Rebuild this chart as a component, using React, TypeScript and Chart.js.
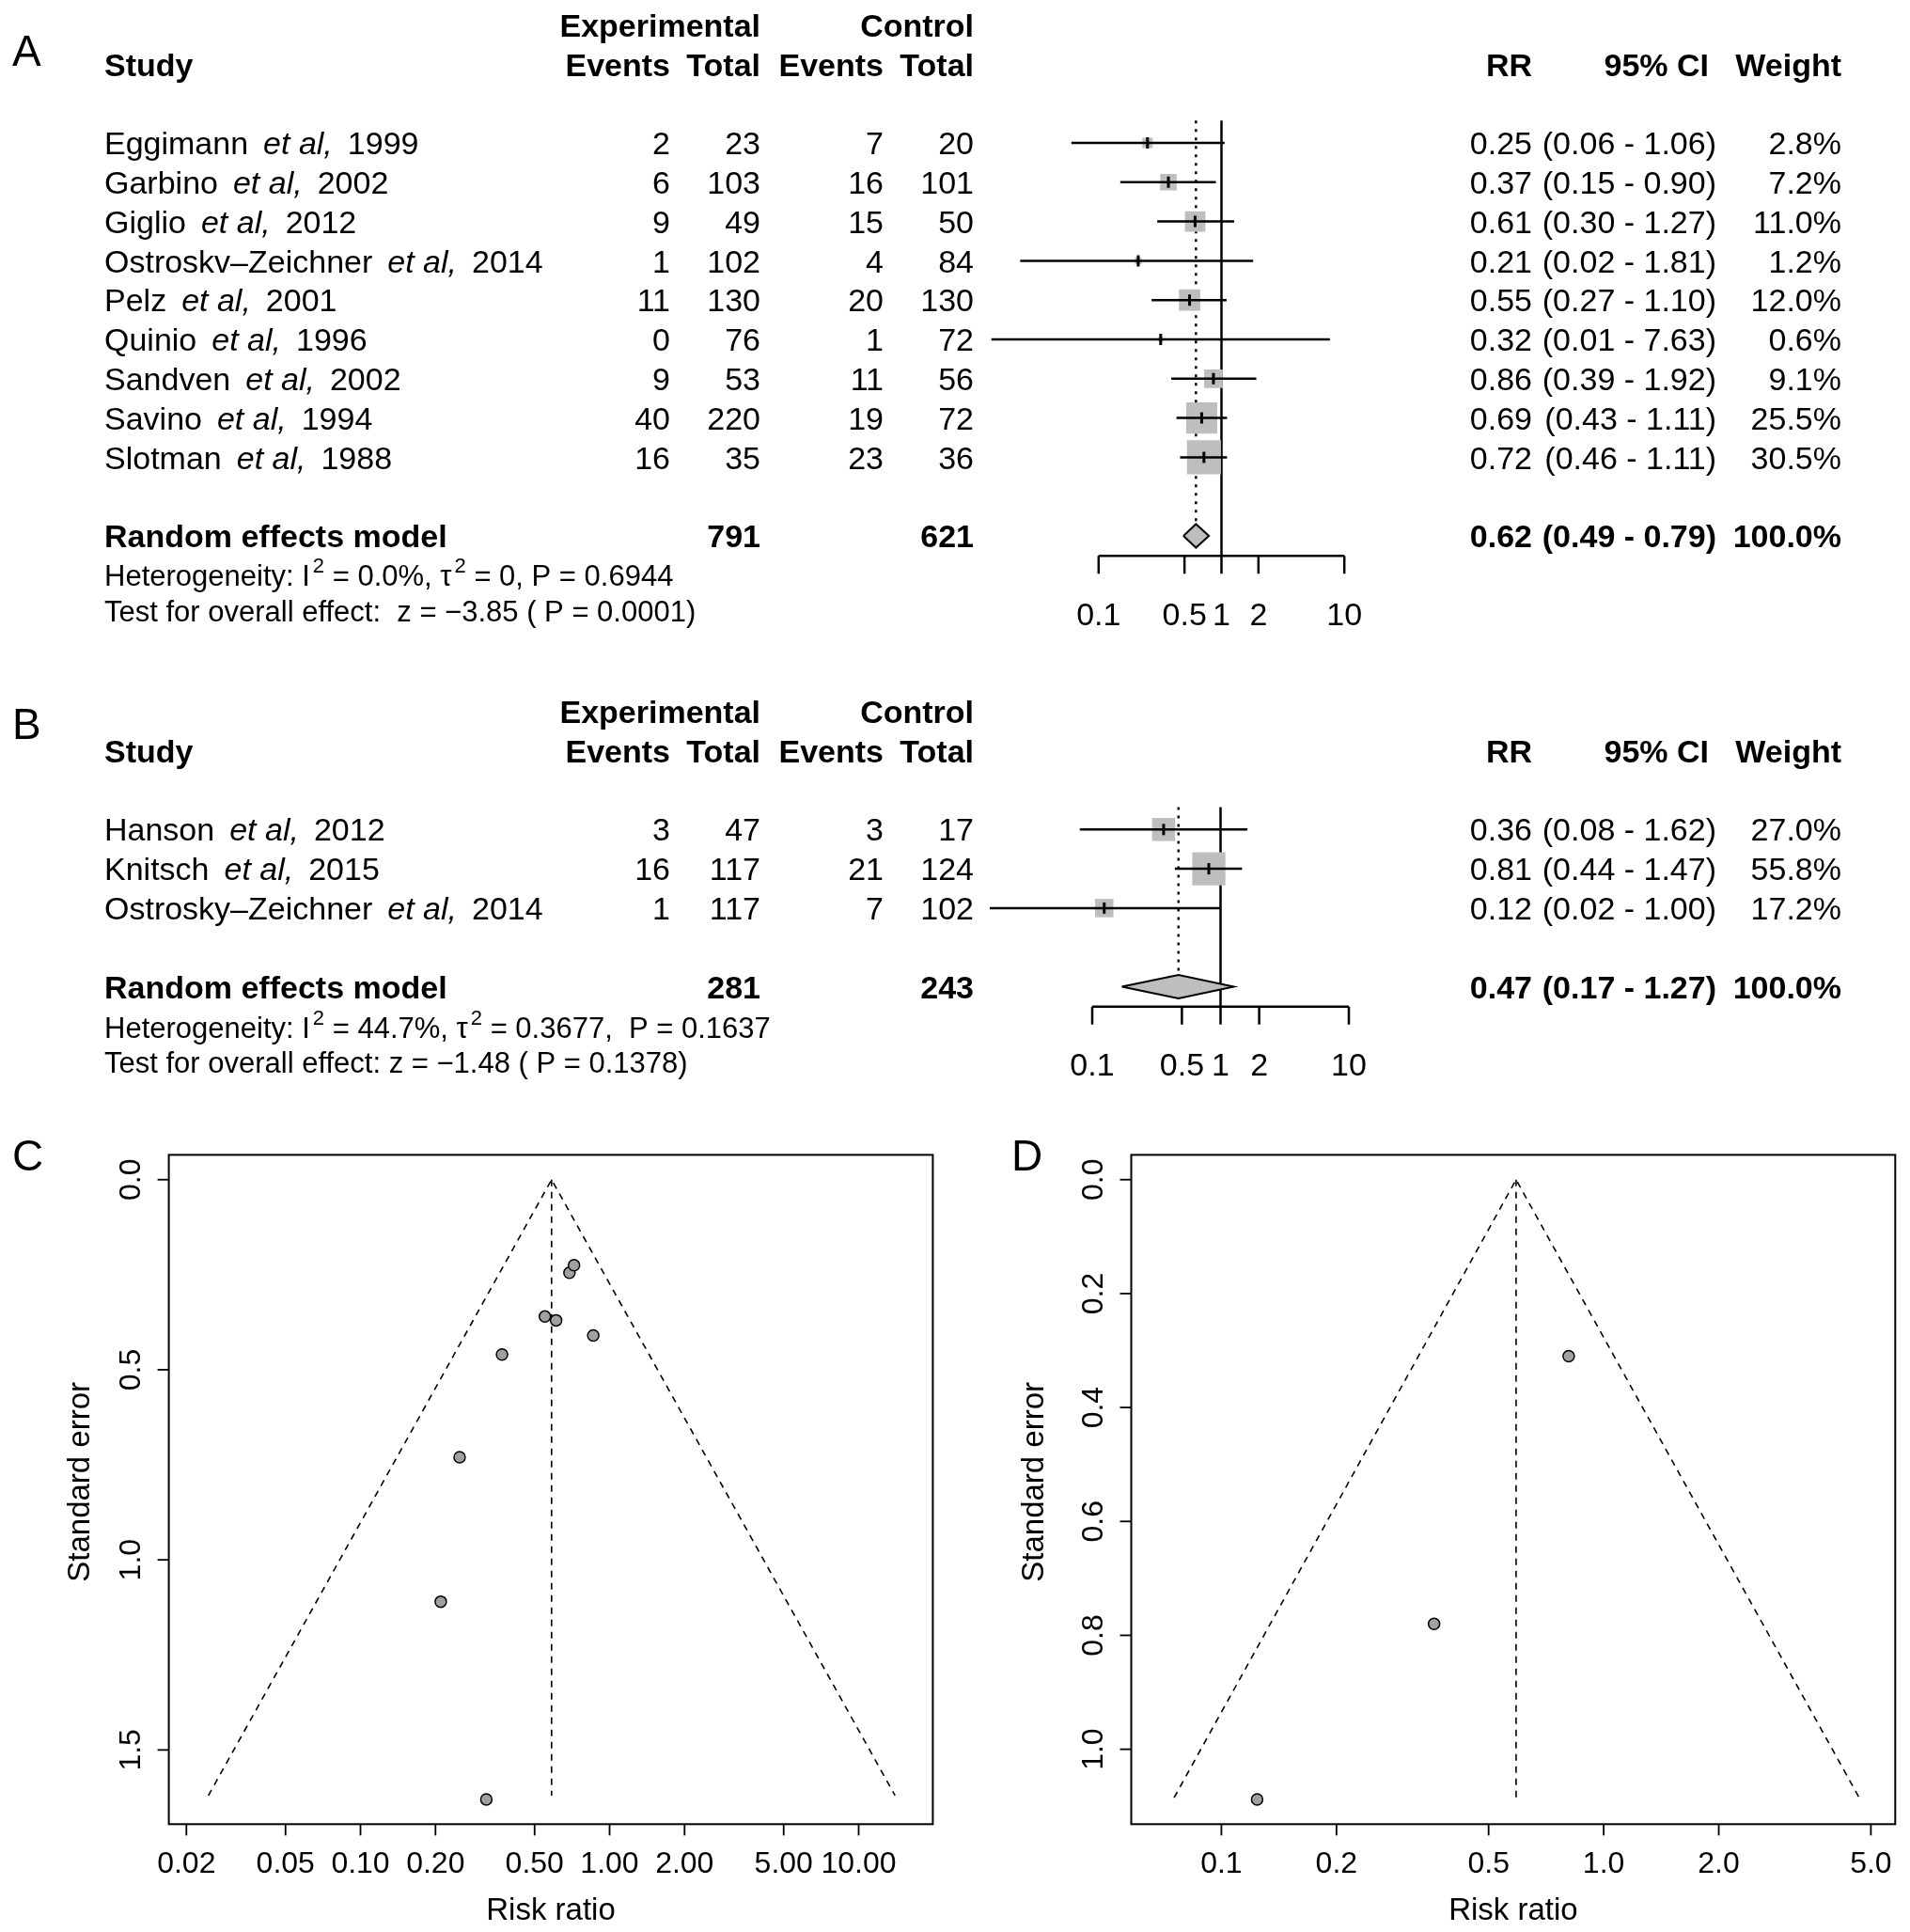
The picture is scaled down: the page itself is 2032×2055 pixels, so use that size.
import React, { useEffect, useRef } from "react";
import { Chart, registerables } from "chart.js";

Chart.register(...registerables);

const FONT = '"Liberation Sans", Arial, Helvetica, sans-serif';
const FS = 34;
const HFS = 31;
const TFS = 32;

// ---------------- Panel A (forest) ----------------
const studiesA = ["Eggimann", "Garbino", "Giglio", "Ostroskv\u2013Zeichner", "Pelz", "Quinio", "Sandven", "Savino", "Slotman"];
const yearsA = [1999, 2002, 2012, 2014, 2001, 1996, 2002, 1994, 1988];
const expEventsA = [2, 6, 9, 1, 11, 0, 9, 40, 16];
const expTotalA = [23, 103, 49, 102, 130, 76, 53, 220, 35];
const ctrlEventsA = [7, 16, 15, 4, 20, 1, 11, 19, 23];
const ctrlTotalA = [20, 101, 50, 84, 130, 72, 56, 72, 36];
const rrA = [0.25, 0.37, 0.61, 0.21, 0.55, 0.32, 0.86, 0.69, 0.72];
const lowerA = [0.06, 0.15, 0.3, 0.023, 0.27, 0.0134, 0.39, 0.43, 0.46];
const upperA = [1.06, 0.9, 1.27, 1.81, 1.1, 7.63, 1.92, 1.11, 1.11];
const weightA = [2.8, 7.2, 11.0, 1.2, 12.0, 0.6, 9.1, 25.5, 30.5];
const modelA = [0.62, 0.49, 0.79, 100.0];
const modelTotalsA = [791, 621];
const hetA = ["Heterogeneity: I", "2", " = 0.0%, \u03c4", "2", " = 0, P = 0.6944"];
const testA = "Test for overall effect:  z = \u22123.85 ( P = 0.0001)";

// ---------------- Panel B (forest) ----------------
const studiesB = ["Hanson", "Knitsch", "Ostrosky\u2013Zeichner"];
const yearsB = [2012, 2015, 2014];
const expEventsB = [3, 16, 1];
const expTotalB = [47, 117, 117];
const ctrlEventsB = [3, 21, 7];
const ctrlTotalB = [17, 124, 102];
const rrB = [0.36, 0.81, 0.124];
const lowerB = [0.08, 0.44, 0.0156];
const upperB = [1.62, 1.47, 0.998];
const weightB = [27.0, 55.8, 17.2];
const modelB = [0.47, 0.17, 1.27, 100.0];
const modelTotalsB = [281, 243];
const hetB = ["Heterogeneity: I", "2", " = 44.7%, \u03c4", "2", " = 0.3677,  P = 0.1637"];
const testB = "Test for overall effect: z = \u22121.48 ( P = 0.1378)";

const forestTicks = [0.1, 0.5, 1, 2, 10];
const forestTickLabels = ["0.1", "0.5", "1", "2", "10"];

// ---------------- Panel C / D (funnel) ----------------
const seC = [0.73, 0.46, 0.37, 1.11, 0.36, 1.63, 0.41, 0.245, 0.225];
const funnelC = [0.0245, 0.585, 14.0]; // left bound at max SE, pooled estimate, right bound
const funnelSeMaxC = 1.62;
const xTicksC = [0.02, 0.05, 0.1, 0.2, 0.5, 1, 2, 5, 10];
const xTickLabelsC = ["0.02", "0.05", "0.10", "0.20", "0.50", "1.00", "2.00", "5.00", "10.00"];
const yTicksC = [0, 0.5, 1.0, 1.5];
const yTickLabelsC = ["0.0", "0.5", "1.0", "1.5"];

const seD = [0.78, 0.31, 1.088];
const funnelD = [0.0752, 0.59, 4.66];
const funnelSeMaxD = 1.085;
const xTicksD = [0.1, 0.2, 0.5, 1, 2, 5];
const xTickLabelsD = ["0.1", "0.2", "0.5", "1.0", "2.0", "5.0"];
const yTicksD = [0, 0.2, 0.4, 0.6, 0.8, 1.0];
const yTickLabelsD = ["0.0", "0.2", "0.4", "0.6", "0.8", "1.0"];

// ---------------- layout constants ----------------
const ROW_H = 41.8;
const AREA_L = 1053;
const AREA_R = 1460;
const COL = { study: 111, ee: 713, et: 809, ce: 940, ct: 1036, rr: 1630, ci: 1826, ciHead: 1818, w: 1959 };

const REG = `${FS}px ${FONT}`;
const BOLD = `bold ${FS}px ${FONT}`;
const ITAL = `italic ${FS}px ${FONT}`;

function seg(pts: any[], extra: any = {}) {
  return {
    type: "line",
    data: pts,
    borderColor: "#000",
    borderWidth: 2.5,
    pointRadius: 0,
    tension: 0,
    fill: false,
    borderCapStyle: "butt",
    ...extra,
  };
}

function forestConfig(s: any) {
  const n = s.studies.length;
  const mRow = n + 1;
  const axisRow = mRow + 0.51;
  const tickEnd = mRow + 0.96;
  const labelRow = mRow + 1.98;
  const xMin = Math.pow(10, (AREA_L - s.p1) / s.decade);
  const xMax = Math.pow(10, (AREA_R - s.p1) / s.decade);
  const top = s.rowY0 + s.yMin * ROW_H;
  const bottom = s.rowY0 + s.yMax * ROW_H;
  const pts = s.rr.map((v: number, i: number) => ({ x: v, y: i }));
  const m = s.model;

  const datasets: any[] = [
    seg([{ x: 1, y: -0.57 }, { x: 1, y: axisRow }], { order: 10 }),
    seg([{ x: m[0], y: -0.57 }, { x: m[0], y: mRow - 0.3 }], { order: 10, borderDash: [3, 6] }),
    seg([{ x: forestTicks[0], y: axisRow }, { x: forestTicks[forestTicks.length - 1], y: axisRow }], { order: 10 }),
    ...forestTicks.map((t) => seg([{ x: t, y: axisRow }, { x: t, y: tickEnd }], { order: 10 })),
    {
      type: "scatter",
      data: pts,
      pointStyle: "rect",
      pointRadius: s.w.map((wt: number) => (s.sq * Math.sqrt(wt)) / Math.SQRT2),
      backgroundColor: "#bebebe",
      pointBackgroundColor: "#bebebe",
      borderWidth: 0,
      pointBorderWidth: 0,
      order: 6,
    },
    ...s.rr.map((_: number, i: number) => seg([{ x: s.lo[i], y: i }, { x: s.hi[i], y: i }], { order: 4 })),
    {
      type: "line",
      data: [
        { x: m[1], y: mRow },
        { x: m[0], y: mRow - 0.3 },
        { x: m[2], y: mRow },
        { x: m[0], y: mRow + 0.3 },
        { x: m[1], y: mRow },
      ],
      borderColor: "#000",
      borderWidth: 2,
      backgroundColor: "#bebebe",
      fill: "shape",
      pointRadius: 0,
      tension: 0,
      borderJoinStyle: "miter",
      order: 3,
    },
    {
      type: "scatter",
      data: pts,
      pointStyle: "line",
      pointRotation: 90,
      pointRadius: 6,
      borderColor: "#000",
      pointBorderColor: "#000",
      borderWidth: 3,
      pointBorderWidth: 3,
      order: 2,
    },
  ];

  const textPlugin = {
    id: "forestText" + s.letter,
    afterDraw(chart: any) {
      const ctx = chart.ctx;
      const xs = chart.scales.x;
      const ys = chart.scales.y;
      const put = (t: string, x: number, r: number, align: any, font: string, size = FS) => {
        ctx.font = font;
        ctx.textAlign = align;
        ctx.fillText(t, x, ys.getPixelForValue(r) + 0.358 * size);
      };
      ctx.save();
      ctx.fillStyle = "#000";
      ctx.textBaseline = "alphabetic";

      // panel letter
      ctx.font = `46px ${FONT}`;
      ctx.textAlign = "left";
      ctx.fillText(s.letter, 13, s.letterY + 0.358 * 46);

      // headers
      put("Experimental", COL.et, -3, "right", BOLD);
      put("Control", COL.ct, -3, "right", BOLD);
      put("Study", COL.study, -2, "left", BOLD);
      put("Events", COL.ee, -2, "right", BOLD);
      put("Total", COL.et, -2, "right", BOLD);
      put("Events", COL.ce, -2, "right", BOLD);
      put("Total", COL.ct, -2, "right", BOLD);
      put("RR", COL.rr, -2, "right", BOLD);
      put("95% CI", COL.ciHead, -2, "right", BOLD);
      put("Weight", COL.w, -2, "right", BOLD);

      // rows
      for (let i = 0; i < n; i++) {
        const yb = ys.getPixelForValue(i) + 0.358 * FS;
        let x = COL.study;
        ctx.textAlign = "left";
        ctx.font = REG;
        ctx.fillText(s.studies[i], x, yb);
        x += ctx.measureText(s.studies[i]).width + 16;
        ctx.font = ITAL;
        ctx.fillText("et al,", x, yb);
        x += ctx.measureText("et al,").width + 16;
        ctx.font = REG;
        ctx.fillText(String(s.years[i]), x, yb);

        put(String(s.ee[i]), COL.ee, i, "right", REG);
        put(String(s.et[i]), COL.et, i, "right", REG);
        put(String(s.ce[i]), COL.ce, i, "right", REG);
        put(String(s.ct[i]), COL.ct, i, "right", REG);
        put(s.rr[i].toFixed(2), COL.rr, i, "right", REG);
        put(`(${s.lo[i].toFixed(2)} - ${s.hi[i].toFixed(2)})`, COL.ci, i, "right", REG);
        put(`${s.w[i].toFixed(1)}%`, COL.w, i, "right", REG);
      }

      // model row
      put("Random effects model", COL.study, mRow, "left", BOLD);
      put(String(s.totals[0]), COL.et, mRow, "right", BOLD);
      put(String(s.totals[1]), COL.ct, mRow, "right", BOLD);
      put(m[0].toFixed(2), COL.rr, mRow, "right", BOLD);
      put(`(${m[1].toFixed(2)} - ${m[2].toFixed(2)})`, COL.ci, mRow, "right", BOLD);
      put(`${m[3].toFixed(1)}%`, COL.w, mRow, "right", BOLD);

      // heterogeneity with superscripts
      {
        const yb = ys.getPixelForValue(s.hetRow) + 0.358 * HFS;
        let x = COL.study;
        ctx.textAlign = "left";
        s.het.forEach((part: string, k: number) => {
          if (k % 2 === 1) {
            ctx.font = `${Math.round(HFS * 0.72)}px ${FONT}`;
            x += 3;
            ctx.fillText(part, x, yb - HFS * 0.45);
          } else {
            ctx.font = `${HFS}px ${FONT}`;
            ctx.fillText(part, x, yb);
          }
          x += ctx.measureText(part).width;
        });
      }
      put(s.test, COL.study, s.testRow, "left", `${HFS}px ${FONT}`, HFS);

      // forest axis tick labels
      forestTicks.forEach((t, k) => {
        ctx.font = REG;
        ctx.textAlign = "center";
        ctx.fillText(forestTickLabels[k], xs.getPixelForValue(t), ys.getPixelForValue(labelRow) + 0.358 * FS);
      });
      ctx.restore();
    },
  };

  return {
    type: "scatter",
    data: { datasets },
    options: {
      responsive: false,
      animation: false,
      devicePixelRatio: 1,
      events: [],
      layout: { autoPadding: false, padding: { left: AREA_L, right: s.width - AREA_R, top, bottom: s.height - bottom } },
      scales: {
        x: { type: "logarithmic", min: xMin, max: xMax, display: false },
        y: { type: "linear", min: s.yMin, max: s.yMax, reverse: true, display: false },
      },
      plugins: { legend: { display: false }, tooltip: { enabled: false } },
    },
    plugins: [textPlugin],
  };
}

function funnelConfig(s: any) {
  const [lo, est, hi] = s.funnel;
  const dash = { borderWidth: 1.6, borderDash: [7, 6], order: 5 };
  const datasets: any[] = [
    seg([{ x: lo, y: s.seMax }, { x: est, y: 0 }, { x: hi, y: s.seMax }], { ...dash, borderJoinStyle: "miter" }),
    seg([{ x: est, y: 0 }, { x: est, y: s.seMax }], dash),
    {
      type: "scatter",
      data: s.rr.map((v: number, i: number) => ({ x: v, y: s.se[i] })),
      pointStyle: "circle",
      pointRadius: 6,
      backgroundColor: "#a0a0a0",
      pointBackgroundColor: "#a0a0a0",
      borderColor: "#000",
      pointBorderColor: "#000",
      borderWidth: 1.5,
      pointBorderWidth: 1.5,
      order: 1,
    },
  ];
  const plugin = {
    id: "funnelAxes" + s.letter,
    afterDraw(chart: any) {
      const ctx = chart.ctx;
      const a = chart.chartArea;
      const xs = chart.scales.x;
      const ys = chart.scales.y;
      ctx.save();
      ctx.strokeStyle = "#000";
      ctx.fillStyle = "#000";
      ctx.lineWidth = 2;
      ctx.strokeRect(a.left, a.top, a.right - a.left, a.bottom - a.top);
      ctx.lineWidth = 1.8;
      ctx.font = `${TFS}px ${FONT}`;
      ctx.textBaseline = "alphabetic";
      s.xTicks.forEach((t: number, k: number) => {
        const px = xs.getPixelForValue(t);
        ctx.beginPath();
        ctx.moveTo(px, a.bottom);
        ctx.lineTo(px, a.bottom + 12);
        ctx.stroke();
        ctx.textAlign = "center";
        ctx.fillText(s.xLabels[k], px, a.bottom + 40 + 0.358 * TFS);
      });
      s.yTicks.forEach((t: number, k: number) => {
        const py = ys.getPixelForValue(t);
        ctx.beginPath();
        ctx.moveTo(a.left, py);
        ctx.lineTo(a.left - 12, py);
        ctx.stroke();
        ctx.save();
        ctx.translate(a.left - s.labelOff, py);
        ctx.rotate(-Math.PI / 2);
        ctx.textAlign = "center";
        ctx.fillText(s.yLabels[k], 0, 0.358 * TFS);
        ctx.restore();
      });
      ctx.font = `33px ${FONT}`;
      ctx.textAlign = "center";
      ctx.fillText("Risk ratio", (a.left + a.right) / 2, a.bottom + 90 + 0.358 * 33);
      ctx.save();
      ctx.translate(a.left - s.titleOff, (a.top + a.bottom) / 2 - 8);
      ctx.rotate(-Math.PI / 2);
      ctx.fillText("Standard error", 0, 0.358 * 33);
      ctx.restore();
      ctx.font = `46px ${FONT}`;
      ctx.textAlign = "left";
      ctx.fillText(s.letter, s.letterX, s.letterY + 0.358 * 46);
      ctx.restore();
    },
  };
  return {
    type: "scatter",
    data: { datasets },
    options: {
      responsive: false,
      animation: false,
      devicePixelRatio: 1,
      events: [],
      layout: { autoPadding: false, padding: s.pad },
      scales: {
        x: { type: "logarithmic", min: s.xMin, max: s.xMax, display: false },
        y: { type: "linear", min: s.yMin, max: s.yMax, reverse: true, display: false },
      },
      plugins: { legend: { display: false }, tooltip: { enabled: false } },
    },
    plugins: [plugin],
  };
}

function ChartCanvas({ left, top, width, height, make }: any) {
  const ref = useRef<HTMLCanvasElement>(null);
  useEffect(() => {
    const chart = new Chart(ref.current as HTMLCanvasElement, make());
    return () => chart.destroy();
  }, []);
  return (
    <canvas
      ref={ref}
      width={width}
      height={height}
      style={{ position: "absolute", left, top, width, height }}
    />
  );
}

const specA = {
  letter: "A", letterY: 54, width: 2032, height: 700,
  rowY0: 152, yMin: -3.5, yMax: 12.5, p1: 1299.5, decade: 130.7, sq: 6.55,
  studies: studiesA, years: yearsA, ee: expEventsA, et: expTotalA, ce: ctrlEventsA, ct: ctrlTotalA,
  rr: rrA, lo: lowerA, hi: upperA, w: weightA, model: modelA, totals: modelTotalsA,
  het: hetA, test: testA, hetRow: 11.0, testRow: 11.9,
};

const specB = {
  letter: "B", letterY: 50, width: 2032, height: 480,
  rowY0: 162.3, yMin: -3.5, yMax: 7.0, p1: 1298.5, decade: 136.5, sq: 4.72,
  studies: studiesB, years: yearsB, ee: expEventsB, et: expTotalB, ce: ctrlEventsB, ct: ctrlTotalB,
  rr: rrB, lo: lowerB, hi: upperB, w: weightB, model: modelB, totals: modelTotalsB,
  het: hetB, test: testB, hetRow: 5.03, testRow: 5.92,
};

const specC = {
  letter: "C", letterX: 13, letterY: 29,
  pad: { left: 179.6, right: 23.6, top: 28.4, bottom: 114.7 },
  xMin: 0.017, xMax: 19.85, yMin: -0.0652, yMax: 1.6952,
  rr: rrA, se: seC, funnel: funnelC, seMax: funnelSeMaxC,
  xTicks: xTicksC, xLabels: xTickLabelsC, yTicks: yTicksC, yLabels: yTickLabelsC,
  labelOff: 42, titleOff: 96,
};

const specD = {
  letter: "D", letterX: 60, letterY: 29,
  pad: { left: 187.5, right: 15.7, top: 28.4, bottom: 114.7 },
  xMin: 0.0581, xMax: 5.79, yMin: -0.0435, yMax: 1.1315,
  rr: rrB, se: seD, funnel: funnelD, seMax: funnelSeMaxD,
  xTicks: xTicksD, xLabels: xTickLabelsD, yTicks: yTicksD, yLabels: yTickLabelsD,
  labelOff: 42, titleOff: 105,
};

export default function App() {
  return (
    <div style={{ position: "absolute", left: 0, top: 0, width: 2032, height: 2055, background: "#fff", overflow: "hidden" }}>
      <ChartCanvas left={0} top={0} width={2032} height={700} make={() => forestConfig(specA)} />
      <ChartCanvas left={0} top={720} width={2032} height={480} make={() => forestConfig(specB)} />
      <ChartCanvas left={0} top={1200} width={1016} height={855} make={() => funnelConfig(specC)} />
      <ChartCanvas left={1016} top={1200} width={1016} height={855} make={() => funnelConfig(specD)} />
    </div>
  );
}
